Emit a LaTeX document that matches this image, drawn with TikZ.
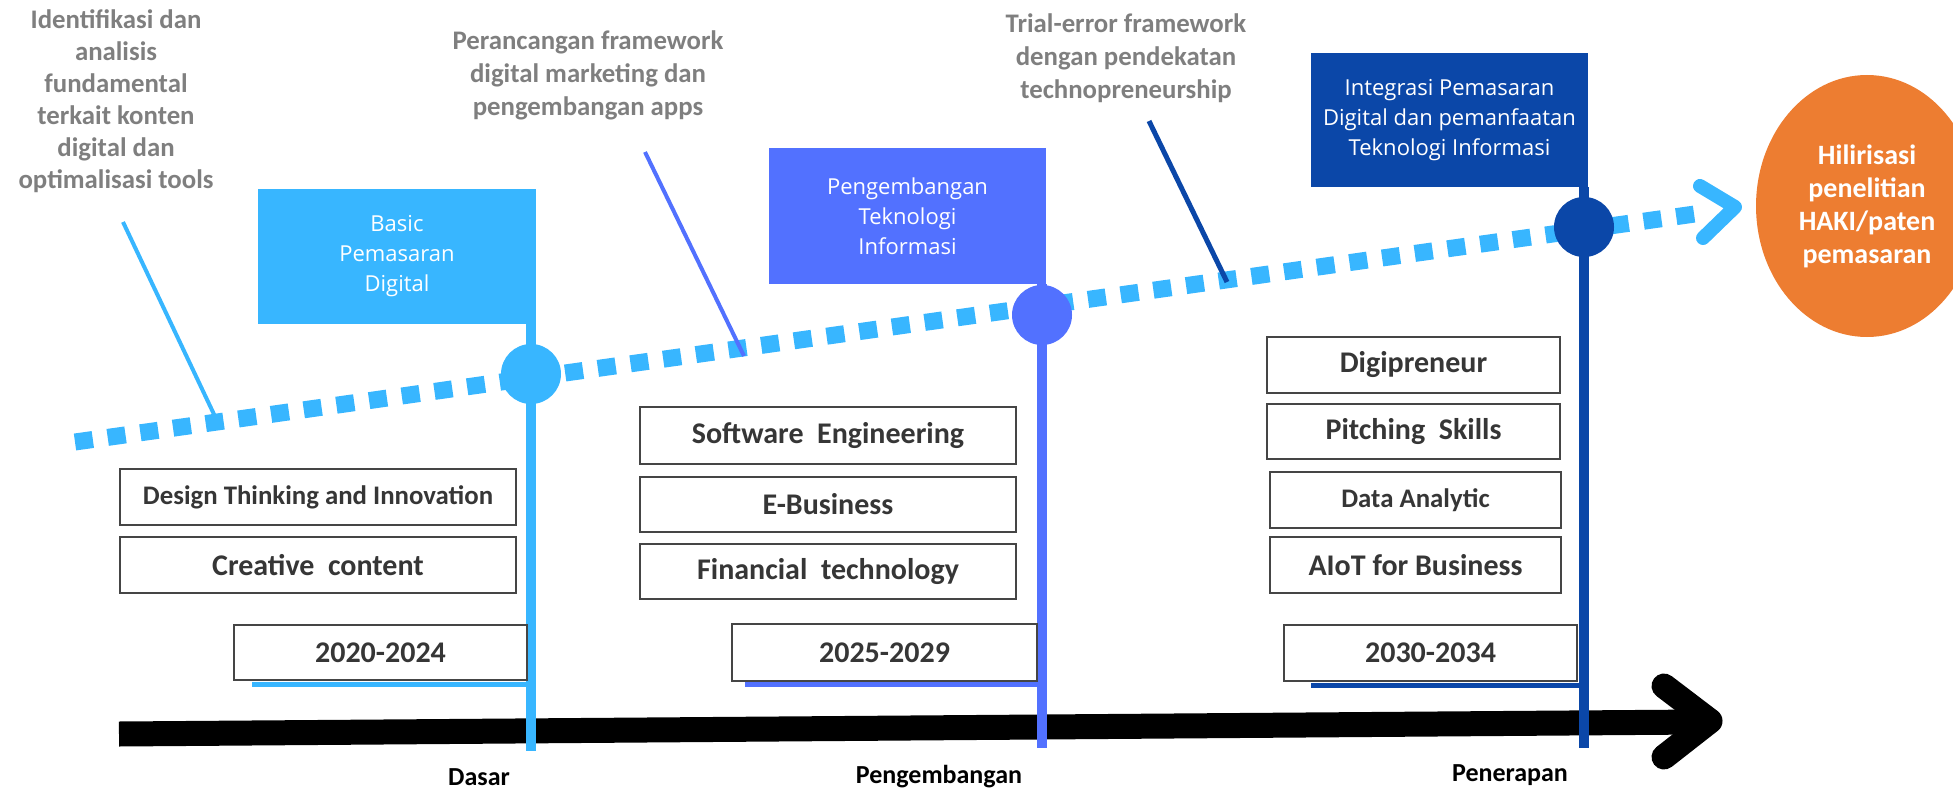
\documentclass[tikz,border=0pt]{standalone}
\usepackage{fontspec}
\setmainfont{Carlito}
\newfontfamily\flagfont{Open Sans}
\usetikzlibrary{shapes.geometric}
\definecolor{cLight}{HTML}{38B6FF}
\definecolor{cMid}{HTML}{5271FF}
\definecolor{cDark}{HTML}{0B47A8}
\definecolor{cOrange}{HTML}{ED7D31}
\definecolor{cGray}{HTML}{7F7F7F}
\definecolor{cText}{HTML}{363636}
\definecolor{cBorder}{HTML}{454545}
\begin{document}
\begin{tikzpicture}[x=0.5pt,y=-0.5pt,
  box/.style={draw=cBorder, line width=1pt, fill=white, text=cText, inner sep=0pt, align=center, font=\bfseries\fontsize{15}{18}\selectfont},
  smallbox/.style={box, font=\bfseries\fontsize{13.4}{16}\selectfont},
  flagbox/.style={fill=#1, inner sep=0pt, text=white, align=center, font=\flagfont\fontsize{11}{15}\selectfont},
  dot/.style={circle, fill=#1, inner sep=0pt, minimum size=30pt},
  pole/.style={draw=#1, line width=5pt},
  leader/.style={draw=#1, line width=2pt},
  underl/.style={draw=#1, line width=2.5pt},
  toplabel/.style={text=cGray, align=center, font=\bfseries\fontsize{13.4}{16}\selectfont},
  phase/.style={text=black, font=\bfseries\fontsize{13}{16}\selectfont},
]
\useasboundingbox (0,0) rectangle (1953,792);
\clip (0,0) rectangle (1953,792);

% black time axis
\coordinate (bstart) at (119,734);
\coordinate (bend) at (1700,722);
\coordinate (btip) at (1710,721);
\draw[line width=12.5pt] (bstart) -- (bend);
\draw[line width=12.5pt, line cap=round, line join=round] (1664,686) -- (btip) -- (1664,757);

% dotted progress line
\coordinate (dstart) at (75,442);
\coordinate (dend) at (1702,213);
\coordinate (dtip) at (1735,207);
\draw[cLight, line width=8.5pt, dash pattern=on 9pt off 7.5pt] (dstart) -- (dend);
\draw[cLight, line width=7pt, line cap=round, line join=round] (1700,186) -- (dtip) -- (1703,238);

% flags
\node[flagbox=cLight, minimum width=139pt, minimum height=67.5pt] (f1) at (397,256.5) {Basic\\Pemasaran\\Digital};
\node[flagbox=cMid, minimum width=138.5pt, minimum height=68pt] (f2) at (907.5,216) {Pengembangan\\Teknologi\\Informasi};
\node[flagbox=cDark, minimum width=138.5pt, minimum height=67pt] (f3) at (1449.5,120) {Integrasi Pemasaran\\Digital dan pemanfaatan\\Teknologi Informasi};

% poles
\coordinate (p1b) at (531,751);
\coordinate (p2b) at (1042,748);
\coordinate (p3b) at (1584,748);
\draw[pole=cLight] (f1.south east -| p1b) -- (p1b);
\draw[pole=cMid] (f2.south east -| p2b) -- (p2b);
\draw[pole=cDark] (f3.south east -| p3b) -- (p3b);

% milestone dots
\node[dot=cLight] (c1) at (531,374) {};
\node[dot=cMid] (c2) at (1042,315) {};
\node[dot=cDark] (c3) at (1584,227) {};

% top labels and leaders
\node[toplabel] (t1) at (116,101.5) {Identifikasi dan\\analisis\\fundamental\\terkait konten\\digital dan\\optimalisasi tools};
\node[toplabel, font=\bfseries\fontsize{13.4}{16.5}\selectfont] (t2) at (588,75.5) {Perancangan framework\\digital marketing dan\\pengembangan apps};
\node[toplabel, font=\bfseries\fontsize{13.4}{16.5}\selectfont] (t3) at (1126,58.5) {Trial-error framework\\dengan pendekatan\\technopreneurship};
\coordinate (l1a) at (123,222); \coordinate (l1b) at (220,427);
\coordinate (l2a) at (645,152); \coordinate (l2b) at (744,356);
\coordinate (l3a) at (1149,121); \coordinate (l3b) at (1227,282);
\draw[leader=cLight] (l1a) -- (l1b);
\draw[leader=cMid] (l2a) -- (l2b);
\draw[leader=cDark, line width=2.5pt] (l3a) -- (l3b);

% year underlines
\coordinate (u1) at (252,684);
\coordinate (u2) at (745,684);
\coordinate (u3) at (1311,685);
\draw[underl=cLight] (u1) -- (u1 -| p1b);
\draw[underl=cMid] (u2) -- (u2 -| p2b);
\draw[underl=cDark] (u3) -- (u3 -| p3b);

% column 1
\node[smallbox, minimum width=198pt, minimum height=28pt] (b11) at (318,497) {Design Thinking and Innovation};
\node[box, minimum width=198pt, minimum height=28pt] (b12) at (318,565) {Creative\ \ content};
\node[box, minimum width=146.5pt, minimum height=27.5pt] (y1) at (380.5,652.5) {2020-2024};
% column 2
\node[box, minimum width=188pt, minimum height=28.5pt] (b21) at (828,435.5) {Software\ \ Engineering};
\node[box, minimum width=188pt, minimum height=27.5pt] (b22) at (828,504.5) {E-Business};
\node[box, minimum width=188pt, minimum height=27.5pt] (b23) at (828,571.5) {Financial\ \ technology};
\node[box, minimum width=152.5pt, minimum height=28.5pt] (y2) at (884.5,652.5) {2025-2029};
% column 3
\node[box, minimum width=146.5pt, minimum height=28pt] (b31) at (1413.5,365) {Digipreneur};
\node[box, minimum width=146.5pt, minimum height=27.5pt] (b32) at (1413.5,431.5) {Pitching\ \ Skills};
\node[smallbox, minimum width=145.5pt, minimum height=28pt] (b33) at (1415.5,500) {Data Analytic};
\node[box, minimum width=145.5pt, minimum height=28pt] (b34) at (1415.5,565) {AIoT for Business};
\node[box, minimum width=146.5pt, minimum height=28pt] (y3) at (1430.5,653) {2030-2034};

% goal
\node[ellipse, fill=cOrange, minimum width=111pt, minimum height=131pt, inner sep=0pt, text=white, align=center, font=\bfseries\fontsize{14}{16.5}\selectfont] (goal) at (1867,206) {Hilirisasi\\penelitian\\HAKI/paten\\pemasaran};

% phase labels
\node[phase] (ph1) at (479,777) {Dasar};
\node[phase] (ph2) at (939,777) {Pengembangan};
\node[phase] (ph3) at (1510,775) {Penerapan};
\end{tikzpicture}
\end{document}
